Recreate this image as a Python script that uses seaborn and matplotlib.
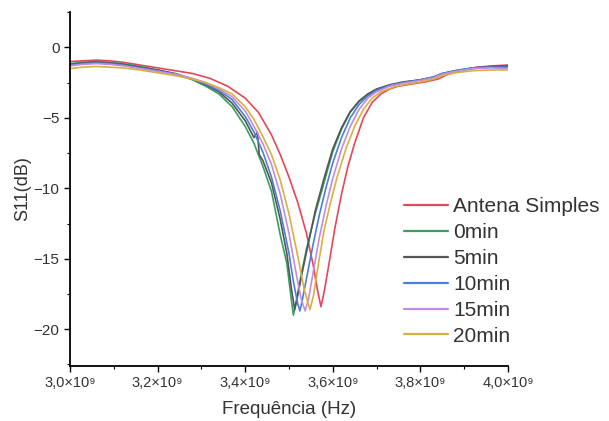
import pandas as pd
import matplotlib
matplotlib.use("Agg")
import matplotlib.pyplot as plt
from matplotlib.ticker import MultipleLocator, FixedLocator, FixedFormatter
import seaborn as sns

# frequencias em GHz, S11 em dB
f_simples = [3.00, 3.03, 3.06, 3.09, 3.12, 3.16, 3.20, 3.24, 3.28, 3.32, 3.36, 3.40, 3.43, 3.46,
             3.48, 3.50, 3.52, 3.54, 3.555, 3.565, 3.573, 3.58, 3.59, 3.605, 3.62, 3.635, 3.65,
             3.67, 3.69, 3.71, 3.73, 3.75, 3.78, 3.81, 3.84, 3.86, 3.89, 3.93, 3.97, 4.00]
s_simples = [-1.0, -0.95, -0.9, -0.95, -1.05, -1.25, -1.45, -1.65, -1.85, -2.2, -2.75, -3.6, -4.6,
             -6.2, -7.6, -9.2, -11.0, -13.2, -15.4, -17.2, -18.4, -17.4, -15.6, -12.8, -10.4, -8.4,
             -6.8, -5.0, -3.9, -3.3, -2.95, -2.75, -2.6, -2.45, -2.25, -1.95, -1.65, -1.4, -1.3, -1.25]

f_0min = [3.00, 3.03, 3.06, 3.09, 3.12, 3.16, 3.20, 3.24, 3.28, 3.31, 3.34, 3.37, 3.40, 3.42, 3.44,
          3.46, 3.48, 3.495, 3.505, 3.51, 3.515, 3.525, 3.54, 3.56, 3.58, 3.60, 3.62, 3.64, 3.66,
          3.68, 3.70, 3.73, 3.76, 3.80, 3.83, 3.85, 3.88, 3.92, 3.96, 4.00]
s_0min = [-1.15, -1.05, -1.0, -1.05, -1.15, -1.35, -1.6, -1.9, -2.3, -2.75, -3.3, -4.2, -5.6, -6.8,
          -8.4, -10.2, -13.3, -15.3, -17.8, -19.0, -18.3, -16.6, -14.3, -11.8, -9.6, -7.4, -5.8,
          -4.6, -3.85, -3.35, -3.0, -2.7, -2.5, -2.3, -2.15, -1.9, -1.7, -1.5, -1.4, -1.35]

f_5min = [3.00, 3.03, 3.06, 3.09, 3.12, 3.16, 3.20, 3.24, 3.28, 3.31, 3.34, 3.37, 3.40, 3.42, 3.428,
          3.432, 3.44, 3.46, 3.48, 3.495, 3.505, 3.513, 3.52, 3.53, 3.545, 3.56, 3.58, 3.60, 3.62,
          3.64, 3.66, 3.68, 3.70, 3.73, 3.76, 3.80, 3.83, 3.85, 3.88, 3.92, 3.96, 4.00]
s_5min = [-1.2, -1.1, -1.05, -1.1, -1.2, -1.4, -1.6, -1.85, -2.25, -2.65, -3.15, -3.95, -5.2, -6.4,
          -6.0, -7.6, -8.0, -9.6, -12.2, -14.6, -17.0, -18.6, -17.6, -16.0, -13.8, -11.6, -9.3,
          -7.2, -5.7, -4.55, -3.8, -3.3, -2.95, -2.65, -2.45, -2.3, -2.1, -1.85, -1.65, -1.45,
          -1.35, -1.3]

f_10min = [3.00, 3.03, 3.06, 3.09, 3.12, 3.16, 3.20, 3.24, 3.28, 3.31, 3.34, 3.37, 3.40, 3.42, 3.44,
           3.46, 3.48, 3.50, 3.51, 3.52, 3.525, 3.53, 3.54, 3.555, 3.57, 3.585, 3.60, 3.62, 3.64,
           3.66, 3.68, 3.70, 3.73, 3.76, 3.80, 3.83, 3.85, 3.88, 3.92, 3.96, 4.00]
s_10min = [-1.25, -1.15, -1.1, -1.15, -1.25, -1.45, -1.65, -1.9, -2.25, -2.6, -3.05, -3.7, -4.9,
           -6.0, -7.4, -9.2, -11.6, -14.6, -16.6, -18.2, -18.7, -18.0, -16.4, -14.0, -11.8, -9.9,
           -8.2, -6.4, -5.0, -4.05, -3.45, -3.05, -2.7, -2.5, -2.3, -2.1, -1.85, -1.65, -1.45,
           -1.4, -1.4]

f_15min = [3.00, 3.03, 3.06, 3.09, 3.12, 3.16, 3.20, 3.24, 3.28, 3.31, 3.34, 3.37, 3.40, 3.42, 3.44,
           3.46, 3.48, 3.50, 3.515, 3.528, 3.537, 3.545, 3.555, 3.57, 3.585, 3.60, 3.62, 3.64, 3.66,
           3.68, 3.70, 3.73, 3.76, 3.80, 3.83, 3.85, 3.88, 3.92, 3.96, 4.00]
s_15min = [-1.3, -1.2, -1.15, -1.2, -1.3, -1.5, -1.7, -1.9, -2.2, -2.5, -2.95, -3.5, -4.5, -5.6,
           -6.8, -8.3, -10.4, -13.2, -15.8, -17.9, -18.7, -17.8, -16.0, -13.4, -11.2, -9.3, -7.2,
           -5.6, -4.4, -3.6, -3.15, -2.75, -2.55, -2.35, -2.15, -1.9, -1.7, -1.5, -1.45, -1.5]

f_20min = [3.00, 3.03, 3.06, 3.09, 3.12, 3.16, 3.20, 3.24, 3.28, 3.31, 3.34, 3.37, 3.40, 3.42, 3.44,
           3.46, 3.48, 3.50, 3.52, 3.535, 3.548, 3.556, 3.565, 3.58, 3.595, 3.61, 3.63, 3.65, 3.67,
           3.69, 3.71, 3.74, 3.77, 3.80, 3.83, 3.85, 3.88, 3.92, 3.96, 4.00]
s_20min = [-1.5, -1.4, -1.35, -1.4, -1.45, -1.6, -1.8, -2.0, -2.25, -2.5, -2.85, -3.3, -4.2, -5.1,
           -6.3, -7.6, -9.4, -11.8, -14.8, -17.2, -18.6, -17.6, -15.8, -13.0, -11.0, -9.2, -7.2,
           -5.6, -4.4, -3.6, -3.15, -2.8, -2.6, -2.45, -2.25, -2.0, -1.8, -1.65, -1.6, -1.6]

series_names = ["Antena Simples", "0min", "5min", "10min", "15min", "20min"]
series_f = [f_simples, f_0min, f_5min, f_10min, f_15min, f_20min]
series_s = [s_simples, s_0min, s_5min, s_10min, s_15min, s_20min]
cores = ["#e5475a", "#3a9e62", "#555555", "#4a80d9", "#c28de0", "#d9b040"]

xtick_values = [3.0e9, 3.2e9, 3.4e9, 3.6e9, 3.8e9, 4.0e9]
xtick_labels = ["3,0×10⁹", "3,2×10⁹", "3,4×10⁹", "3,6×10⁹", "3,8×10⁹", "4,0×10⁹"]
ytick_values = [-20, -15, -10, -5, 0]

linhas = []
for nome, fs, ss in zip(series_names, series_f, series_s):
    for f, s in zip(fs, ss):
        linhas.append({"Frequencia": f * 1e9, "S11": s, "Serie": nome})
df = pd.DataFrame(linhas)

sns.set_style("ticks")
plt.rcParams["font.family"] = ["Liberation Sans", "DejaVu Sans"]

fig = plt.figure(figsize=(6.09, 4.21), dpi=100)
ax = fig.add_axes([0.115, 0.131, 0.719, 0.84])

sns.lineplot(data=df, x="Frequencia", y="S11", hue="Serie", hue_order=series_names,
             palette=cores, estimator=None, linewidth=1.2, ax=ax, legend=False)

ax.set_xlim(3.0e9, 4.0e9)
ax.set_ylim(-22.6, 2.5)
ax.xaxis.set_major_locator(FixedLocator(xtick_values))
ax.xaxis.set_major_formatter(FixedFormatter(xtick_labels))
ax.xaxis.set_minor_locator(MultipleLocator(0.1e9))
ax.yaxis.set_major_locator(FixedLocator(ytick_values))
ax.yaxis.set_minor_locator(MultipleLocator(2.5))

ax.tick_params(axis="both", which="major", direction="out", length=4, width=1,
               labelsize=10.5, color="black", labelcolor="#333333")
ax.tick_params(axis="both", which="minor", direction="out", length=2.5, width=0.8, color="black")
ax.tick_params(axis="y", labelsize=11)

sns.despine(ax=ax)
for lado in ["left", "bottom"]:
    ax.spines[lado].set_linewidth(1.3)
    ax.spines[lado].set_color("black")

ax.set_xlabel("Frequência (Hz)", fontsize=13.5, color="#333333", labelpad=8)
ax.set_ylabel("S11(dB)", fontsize=13, color="#333333", labelpad=2)

handles = [plt.Line2D([], [], color=c, linewidth=1.6) for c in cores]
ax.legend(handles, series_names, loc="upper left", bbox_to_anchor=(394 / 609, 1 - 187 / 421),
          bbox_transform=fig.transFigure, frameon=False, fontsize=15, handlelength=2.1,
          handletextpad=0.25, labelspacing=0.33, borderpad=0, labelcolor="#333333")

fig.savefig("out.png", dpi=100)
